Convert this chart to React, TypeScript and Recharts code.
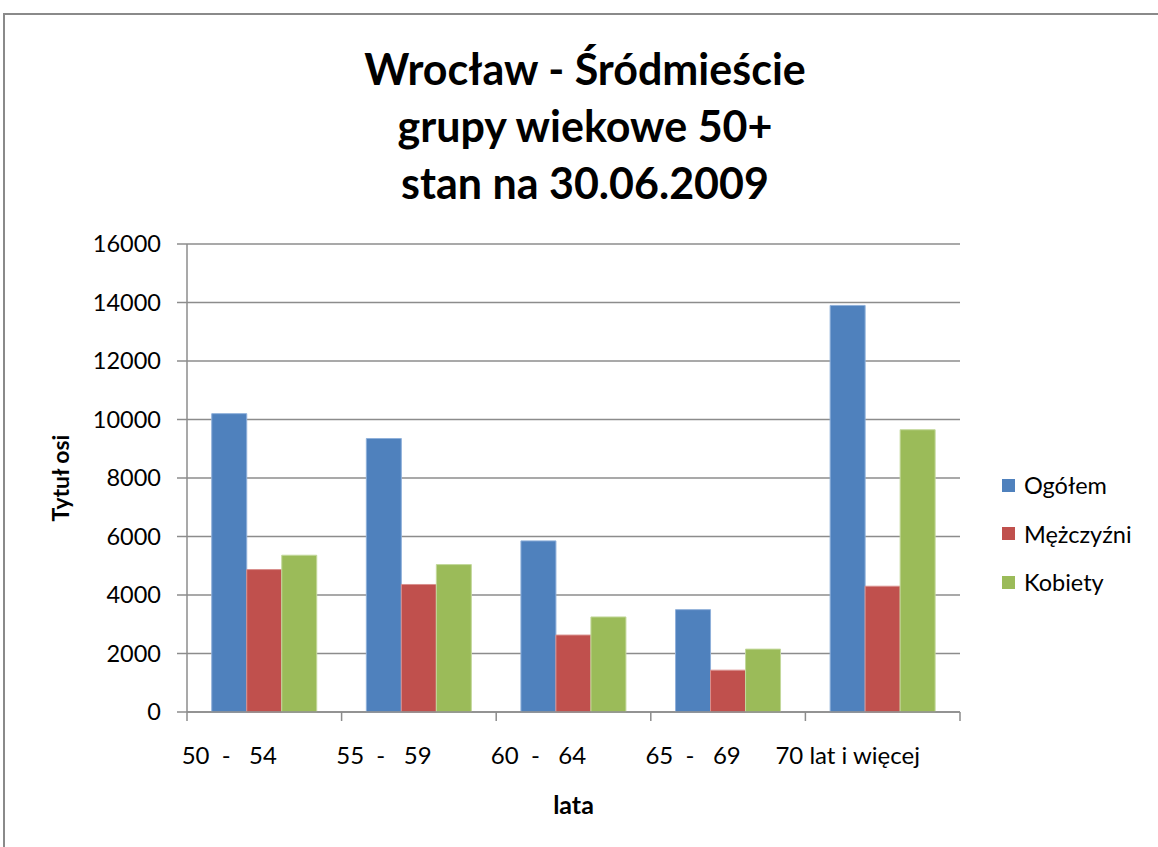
import { BarChart, Bar, XAxis, YAxis, CartesianGrid, Label } from 'recharts';

const categories = ['50  -   54', '55  -   59', '60  -   64', '65  -   69', '70 lat i więcej'];
const ogolem = [10200, 9350, 5850, 3500, 13900];
const mezczyzni = [4870, 4360, 2630, 1430, 4300];
const kobiety = [5360, 5040, 3250, 2150, 9650];
const yTicks = [0, 2000, 4000, 6000, 8000, 10000, 12000, 14000, 16000];
const titleLines = ['Wrocław - Śródmieście', 'grupy wiekowe 50+', 'stan na 30.06.2009'];

const series = [
  { key: 'ogolem', name: 'Ogółem', color: '#4F81BD', edge: '#8fb0da' },
  { key: 'mezczyzni', name: 'Mężczyźni', color: '#C0504D', edge: '#d98f8d' },
  { key: 'kobiety', name: 'Kobiety', color: '#9BBB59', edge: '#c3d89b' },
];

const data = categories.map((lata, i) => ({
  lata,
  ogolem: ogolem[i],
  mezczyzni: mezczyzni[i],
  kobiety: kobiety[i],
}));

const W = 1158;
const H = 847;
const M = { top: 244, right: 198, left: 0, bottom: 0 };
const Y_W = 187;
const X_H = 135;
const FONT = 'Lato, "Open Sans", sans-serif';
const GRID = '#8c8c8c';

const bandW = (W - M.right - Y_W) / categories.length;

const CategoryTick = (props: any) => {
  const { x, y, index, payload } = props;
  const left = x - bandW / 2;
  const last = index === categories.length - 1;
  return (
    <g>
      <line x1={left} y1={y} x2={left} y2={y + 9} stroke={GRID} strokeWidth={1.5} />
      {last && <line x1={x + bandW / 2} y1={y} x2={x + bandW / 2} y2={y + 9} stroke={GRID} strokeWidth={1.5} />}
      <text
        x={x - 35}
        y={y + 43}
        dy="0.355em"
        textAnchor="middle"
        fill="#000"
        fontSize={24}
        fontFamily={FONT}
        style={{ whiteSpace: 'pre' }}
      >
        {payload.value}
      </text>
    </g>
  );
};

const App = () => {
  return (
    <div style={{ position: 'relative', width: W, height: H, overflow: 'hidden', background: '#fff' }}>
      <style>{'body{margin:0}'}</style>
      <div
        style={{
          position: 'absolute',
          left: 3,
          top: 13,
          width: W,
          height: H,
          borderTop: '2.5px solid #8a8a8a',
          borderLeft: '2px solid #8a8a8a',
        }}
      />
      <div
        style={{
          position: 'absolute',
          left: 0,
          top: 40,
          width: 1170,
          textAlign: 'center',
          fontFamily: FONT,
          fontWeight: 700,
          fontSize: 43,
          lineHeight: '57px',
          color: '#000',
        }}
      >
        {titleLines.map((t) => (
          <div key={t}>{t}</div>
        ))}
      </div>
      <BarChart
        width={W}
        height={H}
        data={data}
        margin={M}
        barCategoryGap="16%"
        barGap={0}
        style={{ position: 'absolute', left: 0, top: 0 }}
      >
        <CartesianGrid vertical={false} stroke={GRID} strokeWidth={1.5} />
        <XAxis
          dataKey="lata"
          height={X_H}
          interval={0}
          tickLine={false}
          tickSize={0}
          tickMargin={0}
          axisLine={{ stroke: GRID, strokeWidth: 1.5 }}
          tick={<CategoryTick />}
        >
          <Label
            value="lata"
            position="insideBottom"
            offset={33}
            style={{ fontFamily: FONT, fontWeight: 700, fontSize: 25, fill: '#000' }}
          />
        </XAxis>
        <YAxis
          width={Y_W}
          domain={[0, 16000]}
          ticks={yTicks}
          interval={0}
          tickSize={10}
          tickMargin={16}
          tickLine={{ stroke: GRID, strokeWidth: 1.5 }}
          axisLine={{ stroke: GRID, strokeWidth: 1.5 }}
          tick={{ fill: '#000', fontSize: 23.5, fontFamily: FONT }}
        >
          <Label
            content={(p: any) => {
              const vb = p.viewBox || {};
              const cy = vb.y + vb.height / 2;
              return (
                <text
                  x={60}
                  y={cy}
                  transform={`rotate(-90, 60, ${cy})`}
                  textAnchor="middle"
                  dominantBaseline="central"
                  fontFamily={FONT}
                  fontWeight={700}
                  fontSize={23}
                  fill="#000"
                >
                  Tytuł osi
                </text>
              );
            }}
          />
        </YAxis>
        {series.map((s) => (
          <Bar
            key={s.key}
            dataKey={s.key}
            name={s.name}
            fill={s.color}
            stroke={s.edge}
            strokeWidth={1}
            isAnimationActive={false}
          />
        ))}
      </BarChart>
      <div style={{ position: 'absolute', left: 1002, top: 461, fontFamily: FONT, fontSize: 23.5, color: '#000' }}>
        {series.map((s) => (
          <div key={s.key} style={{ display: 'flex', alignItems: 'center', height: 48.5 }}>
            <span style={{ display: 'inline-block', width: 13, height: 13, background: s.color, marginRight: 9 }} />
            {s.name}
          </div>
        ))}
      </div>
    </div>
  );
};

export default App;
